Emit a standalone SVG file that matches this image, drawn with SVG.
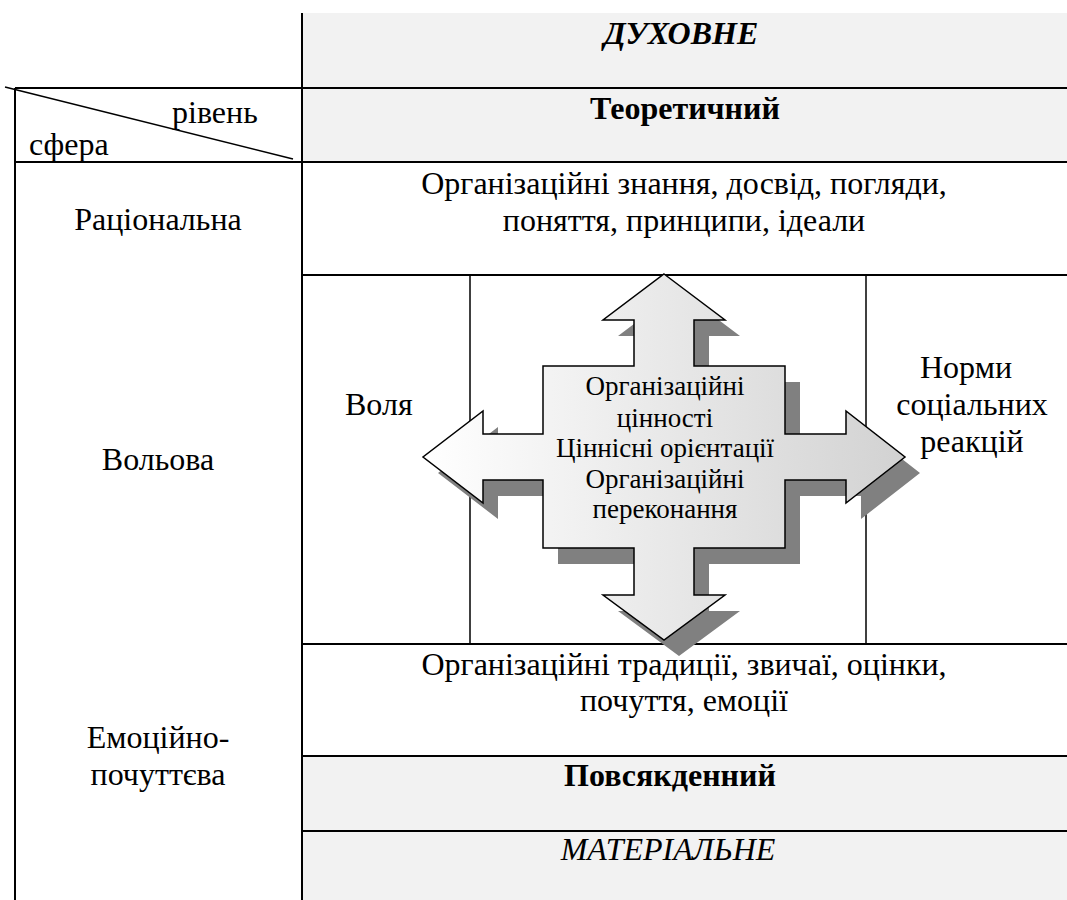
<svg xmlns="http://www.w3.org/2000/svg" width="1067" height="900" viewBox="0 0 1067 900">
<defs>
<style>
.t{font-family:'Liberation Serif','Times New Roman',serif;font-size:32px;fill:#000}
.c{text-anchor:middle}
.b{font-weight:bold}
.i{font-style:italic}
.s{font-size:27px}
.g{fill:#f2f2f2}
.ln{stroke:#000;stroke-width:2;fill:none}
.ln2{stroke:#000;stroke-width:1.5;fill:none}
</style>
<linearGradient id="grad" x1="0" y1="0" x2="1" y2="0">
<stop offset="0" stop-color="#ffffff"/>
<stop offset="1" stop-color="#d2d2d2"/>
</linearGradient>
<path id="cross" d="M664,274 L725,320 L694,320 L694,366 L785,366 L785,434 L846,434 L846,411 L905,457 L846,503 L846,480 L785,480 L785,548 L694,548 L694,595 L725,595 L664,640 L603,595 L634,595 L634,548 L543,548 L543,480 L483,480 L483,503 L423,457 L483,411 L483,434 L543,434 L543,366 L634,366 L634,320 L603,320 Z"/>
</defs>
<rect width="1067" height="900" fill="#fff"/>
<g id="backgrounds">
<rect class="g" x="302" y="13" width="765" height="149"/>
<rect class="g" x="302" y="756" width="765" height="144"/>
</g>
<g id="grid">
<line class="ln" x1="302" y1="13" x2="302" y2="900"/>
<line class="ln" x1="15" y1="88" x2="15" y2="900"/>
<line class="ln" x1="15" y1="88" x2="1067" y2="88"/>
<line class="ln" x1="15" y1="162" x2="1067" y2="162"/>
<line class="ln" x1="302" y1="275" x2="1067" y2="275"/>
<line class="ln" x1="302" y1="644" x2="1067" y2="644"/>
<line class="ln" x1="302" y1="756" x2="1067" y2="756"/>
<line class="ln" x1="302" y1="831" x2="1067" y2="831"/>
<line class="ln2" x1="470" y1="275" x2="470" y2="644"/>
<line class="ln2" x1="866" y1="275" x2="866" y2="644"/>
<line class="ln2" x1="5" y1="87" x2="293" y2="159"/>
</g>
<g id="header">
<text class="t c b i" x="681" y="44">ДУХОВНЕ</text>
<text class="t c b" x="685" y="119">Теоретичний</text>
<text class="t" x="172" y="123">рівень</text>
<text class="t" x="29" y="155">сфера</text>
</g>
<g id="rational">
<text class="t c" x="158" y="230">Раціональна</text>
<text class="t c" x="684" y="194">Організаційні знання, досвід, погляди,</text>
<text class="t c" x="684" y="231">поняття, принципи, ідеали</text>
</g>
<g id="volitional">
<text class="t c" x="158" y="470">Вольова</text>
<text class="t" x="345" y="415">Воля</text>
<text class="t c" x="966" y="378">Норми</text>
<text class="t c" x="972" y="415">соціальних</text>
<text class="t c" x="972" y="452">реакцій</text>
</g>
<g id="connectors">
<use href="#cross" transform="translate(15,16)" fill="#808080"/>
<use href="#cross" fill="url(#grad)" stroke="#000" stroke-width="1.5" stroke-linejoin="miter"/>
</g>
<g id="center-values">
<text class="t c s" x="665" y="395">Організаційні</text>
<text class="t c s" x="665" y="427">цінності</text>
<text class="t c s" x="665" y="457">Ціннісні орієнтації</text>
<text class="t c s" x="665" y="488">Організаційні</text>
<text class="t c s" x="665" y="518">переконання</text>
</g>
<g id="emotional">
<text class="t c" x="158" y="748">Емоційно-</text>
<text class="t c" x="158" y="785">почуттєва</text>
<text class="t c" x="684" y="675">Організаційні традиції, звичаї, оцінки,</text>
<text class="t c" x="684" y="711">почуття, емоції</text>
</g>
<g id="footer">
<text class="t c b" x="670" y="786">Повсякденний</text>
<text class="t c i" x="668" y="860">МАТЕРІАЛЬНЕ</text>
</g>
</svg>
